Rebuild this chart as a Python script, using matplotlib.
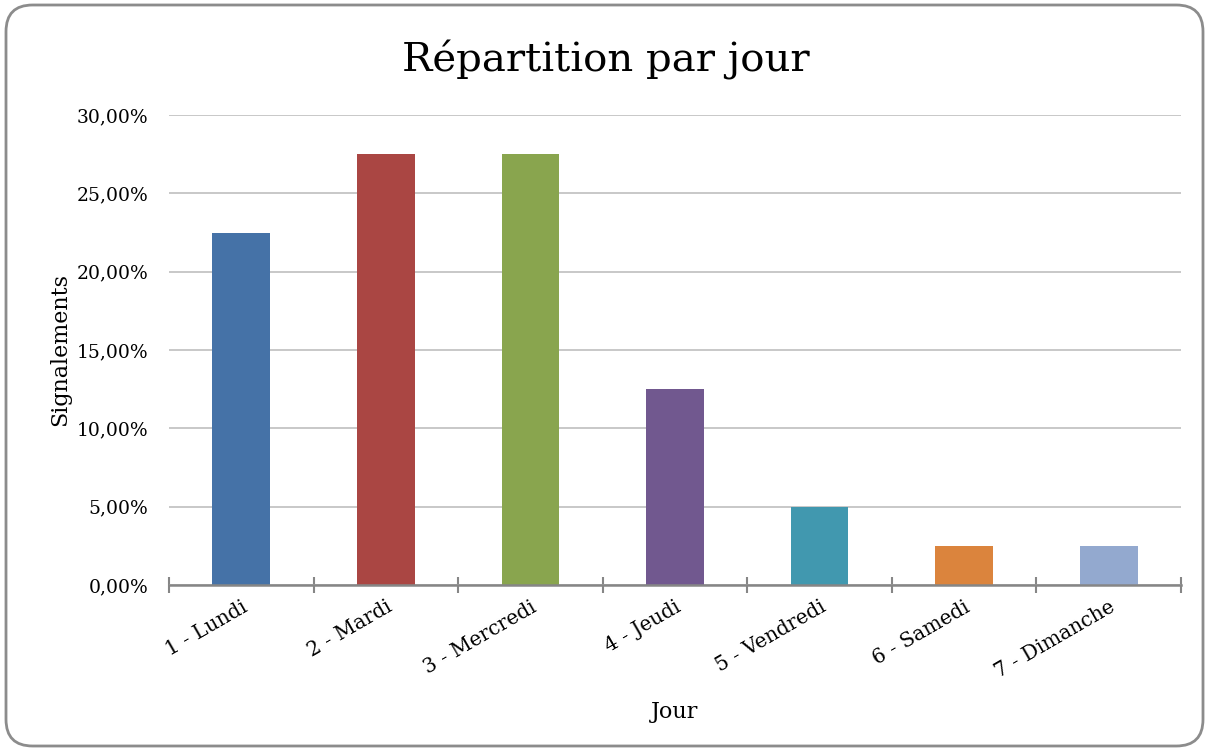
import matplotlib.pyplot as plt
from matplotlib.patches import FancyBboxPatch
from matplotlib.ticker import FuncFormatter

jours = ['1 - Lundi', '2 - Mardi', '3 - Mercredi', '4 - Jeudi',
         '5 - Vendredi', '6 - Samedi', '7 - Dimanche']
pourcentages = [22.5, 27.5, 27.5, 12.5, 5.0, 2.5, 2.5]
couleurs = ['#4572A7', '#AA4643', '#89A54E', '#71588F',
            '#4198AF', '#DB843D', '#93A9CF']

plt.rcParams['font.family'] = ['DejaVu Serif']

fig = plt.figure(figsize=(12.09, 7.51), dpi=100)
ax = fig.add_axes([169/1209, 1-585/751, (1181-169)/1209, (585-115)/751])

# chart border (rounded)
border = FancyBboxPatch((6/1209, 5/751), 1197/1209, 741/751,
                        boxstyle='round,pad=0,rounding_size=0.022',
                        transform=fig.transFigure, fill=False,
                        edgecolor='#8c8c8c', linewidth=2,
                        mutation_aspect=1209/751)
fig.patches.append(border)

x = range(len(jours))
ax.bar(x, pourcentages, width=0.4, color=couleurs, zorder=3)

ax.set_xlim(-0.5, len(jours) - 0.5)
ax.set_ylim(0, 30)
ax.set_yticks([0, 5, 10, 15, 20, 25, 30])
ax.yaxis.set_major_formatter(FuncFormatter(lambda v, p: f'{v:.2f}%'.replace('.', ',')))
ax.grid(axis='y', color='#bfbfbf', linewidth=1.2, zorder=0)
ax.tick_params(axis='y', length=0, labelsize=13.5, pad=15)

# ticks at category boundaries, labels at centres
ax.set_xticks([i - 0.5 for i in range(len(jours) + 1)])
ax.set_xticklabels([])
ax.set_xticks(list(x), minor=True)
ax.set_xticklabels(jours, minor=True, rotation=30, ha='right',
                   rotation_mode='anchor', fontsize=14.5)
ax.tick_params(axis='x', which='major', direction='inout', length=11,
               color='#868686', width=1.5)
ax.tick_params(axis='x', which='minor', length=0, pad=9)

for s in ['top', 'right', 'left']:
    ax.spines[s].set_visible(False)
ax.spines['bottom'].set_color('#868686')
ax.spines['bottom'].set_linewidth(1.8)
ax.spines['bottom'].set_zorder(4)

fig.text(606/1209, 1-72/751, 'Répartition par jour', fontsize=29,
         ha='center', va='baseline')
ax.set_ylabel('Signalements', fontsize=16, labelpad=4)
ax.set_xlabel('Jour', fontsize=16, labelpad=14)

fig.savefig('out.png', dpi=100)
